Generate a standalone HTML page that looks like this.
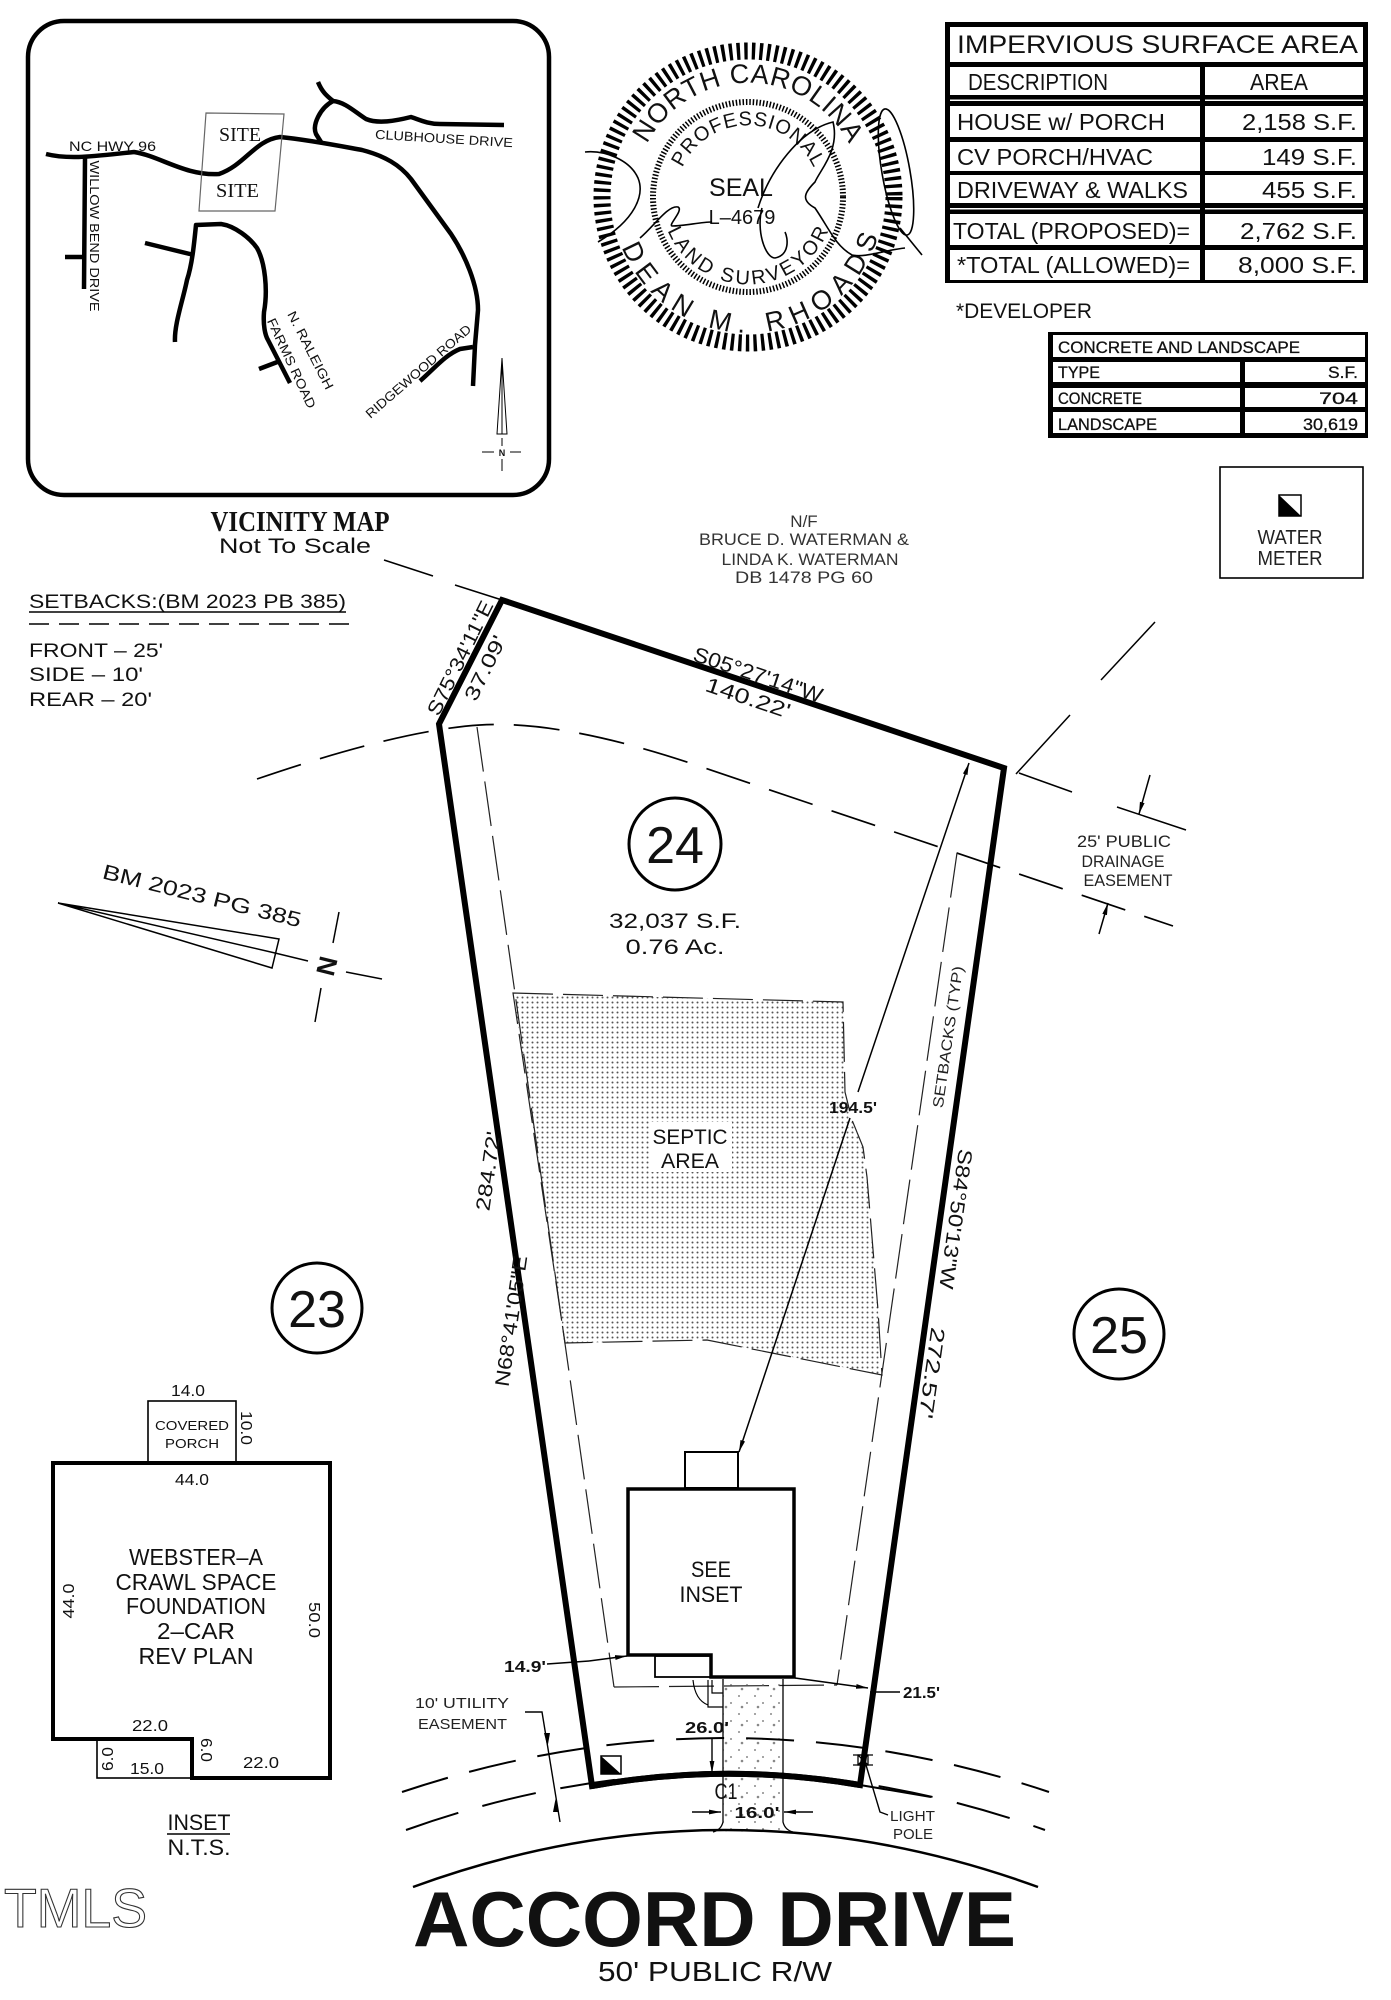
<!DOCTYPE html>
<html><head><meta charset="utf-8"><style>
html,body{margin:0;padding:0;background:#fff}
svg{display:block}
text{font-family:"Liberation Sans",Arial,sans-serif;fill:#111}
.sf{font-family:"Liberation Serif","Times New Roman",serif}
</style></head><body>
<svg width="1391" height="2000" viewBox="0 0 1391 2000" xmlns="http://www.w3.org/2000/svg">
<defs>
<pattern id="dots" width="5" height="5" patternUnits="userSpaceOnUse"><circle cx="2.5" cy="2.5" r="1" fill="#555"/></pattern>
<pattern id="grav" width="16" height="18" patternUnits="userSpaceOnUse"><circle cx="3" cy="4" r="0.9" fill="#666"/><circle cx="11" cy="11" r="0.9" fill="#666"/><circle cx="6" cy="15" r="1.3" fill="#888"/></pattern>
<marker id="ar" viewBox="0 0 12 6" refX="12" refY="3" markerWidth="12" markerHeight="6" markerUnits="userSpaceOnUse" orient="auto-start-reverse"><path d="M0,0.6 L12,3 L0,5.4 Z" fill="#000"/></marker>
<path id="sTop" d="M-112.3,-19.8 A114,114 0 0 1 112.3,-19.8"/>
<path id="sBot" d="M-133.9,23.6 A136,136 0 0 0 133.9,23.6"/>
<path id="sTop2" d="M-71.7,-6.3 A72,72 0 0 1 71.7,-6.3"/>
<path id="sBot2" d="M-86.7,7.6 A87,87 0 0 0 86.7,7.6"/>
</defs>
<rect width="1391" height="2000" fill="#fff"/>

<!-- VICINITY MAP -->
<rect x="28" y="21" width="521" height="474" rx="36" fill="none" stroke="#000" stroke-width="4.5"/>
<g fill="none" stroke="#000" stroke-width="4.5" stroke-linejoin="round">
<path d="M46,154 C70,160 95,156 134,152 C160,156 185,176 219,174 C245,165 255,140 280,137 C310,140 340,146 362,150 C385,156 400,165 411,179 L451,234 C465,255 478,285 478,310 L475,345 L473,386"/>
<path d="M420,381 C435,368 445,355 460,349 L473,347"/>
<path d="M318,82 C322,92 327,96 333,101 C320,108 312,125 316,134 L321,142"/>
<path d="M333,101 C345,102 355,112 366,119 C378,124 395,121 411,117 C420,120 428,124 440,124 L504,125"/>
<path d="M85,158 L84,289 M65,257 L84,257"/>
<path d="M175,342 C174,325 183,300 187,280 C192,265 194,245 196,225 L221,224 C235,226 250,238 257,248 C265,262 268,290 264,312 C263,325 265,335 268,340 L290,383"/>
<path d="M145,243 L194,255 M259,369 L280,361"/>
</g>
<polygon points="206,113 284,114 275,211 199,211" fill="none" stroke="#666" stroke-width="1.2"/>
<text class="sf" x="219" y="141" font-size="20" textLength="42" lengthAdjust="spacingAndGlyphs">SITE</text>
<text class="sf" x="216" y="197" font-size="20" textLength="43" lengthAdjust="spacingAndGlyphs">SITE</text>
<text x="69" y="151" font-size="14" textLength="87" lengthAdjust="spacingAndGlyphs">NC HWY 96</text>
<text transform="translate(444,138) rotate(3.5)" text-anchor="middle" dy="5" font-size="13" textLength="138" lengthAdjust="spacingAndGlyphs">CLUBHOUSE DRIVE</text>
<text transform="translate(95,236) rotate(90)" text-anchor="middle" dy="5" font-size="13" textLength="151" lengthAdjust="spacingAndGlyphs">WILLOW BEND DRIVE</text>
<text transform="translate(311,350) rotate(63)" text-anchor="middle" dy="5" font-size="13" textLength="86" lengthAdjust="spacingAndGlyphs">N. RALEIGH</text>
<text transform="translate(292,363) rotate(65)" text-anchor="middle" dy="5" font-size="13" textLength="98" lengthAdjust="spacingAndGlyphs">FARMS ROAD</text>
<text transform="translate(418,371) rotate(-41)" text-anchor="middle" dy="5" font-size="13" textLength="135" lengthAdjust="spacingAndGlyphs">RIDGEWOOD ROAD</text>
<g stroke="#000" stroke-width="1" fill="none">
<polygon points="502,358 497,434 507,434"/><line x1="502" y1="358" x2="502" y2="434"/>
<line x1="482" y1="452" x2="494" y2="452"/><line x1="510" y1="452" x2="521" y2="452"/>
<line x1="502" y1="438" x2="502" y2="446"/><line x1="502" y1="459" x2="502" y2="471"/>
</g>
<text x="502" y="456" font-size="9" font-weight="bold" text-anchor="middle">N</text>

<text class="sf" x="300" y="531" font-size="28" font-weight="bold" text-anchor="middle" textLength="179" lengthAdjust="spacingAndGlyphs">VICINITY MAP</text>
<text x="219" y="553" font-size="21" textLength="152" lengthAdjust="spacingAndGlyphs">Not To Scale</text>

<!-- SETBACKS -->
<text x="29" y="608" font-size="19" textLength="317" lengthAdjust="spacingAndGlyphs">SETBACKS:(BM 2023 PB 385)</text>
<line x1="29" y1="612" x2="346" y2="612" stroke="#000" stroke-width="1.4"/>
<line x1="29" y1="624" x2="357" y2="624" stroke="#000" stroke-width="1.4" stroke-dasharray="20 10"/>
<text x="29" y="657" font-size="19" textLength="134" lengthAdjust="spacingAndGlyphs">FRONT – 25'</text>
<text x="29" y="681" font-size="19" textLength="114" lengthAdjust="spacingAndGlyphs">SIDE – 10'</text>
<text x="29" y="706" font-size="19" textLength="123" lengthAdjust="spacingAndGlyphs">REAR – 20'</text>

<!-- SEAL -->
<g transform="translate(748,197)">
<circle r="146" fill="none" stroke="#000" stroke-width="17" stroke-dasharray="3.4 4.2"/>
<circle r="95" fill="none" stroke="#000" stroke-width="6" stroke-dasharray="1.5 1.9"/>
<text font-size="27"><textPath href="#sTop" startOffset="50%" text-anchor="middle" textLength="248" lengthAdjust="spacing">NORTH CAROLINA</textPath></text>
<text font-size="27"><textPath href="#sBot" startOffset="51.5%" text-anchor="middle" textLength="335" lengthAdjust="spacing">DEAN M. RHOADS</textPath></text>
<text font-size="20"><textPath href="#sTop2" startOffset="50%" text-anchor="middle" textLength="165" lengthAdjust="spacing">PROFESSIONAL</textPath></text>
<text font-size="20"><textPath href="#sBot2" startOffset="50%" text-anchor="middle" textLength="205" lengthAdjust="spacing">LAND SURVEYOR</textPath></text>
<text x="-7" y="-1" font-size="25" text-anchor="middle">SEAL</text>
<text x="-6" y="27" font-size="20" text-anchor="middle">L–4679</text>
</g>
<g fill="none" stroke="#000" stroke-width="1.6">
<path d="M585,152 C605,150 630,160 638,178 C645,195 635,220 598,242"/>
<path d="M640,238 C655,225 668,205 678,207 C684,210 668,225 672,226 C685,226 700,222 712,222"/>
<path d="M758,208 C770,170 800,130 833,122 C840,150 820,170 815,182 C805,192 800,200 815,208 C830,230 835,245 852,255 C865,258 885,250 905,248"/>
<path d="M762,208 C756,230 765,258 775,258 C790,255 788,238 785,232"/>
<ellipse cx="896" cy="172" rx="14" ry="64" transform="rotate(-10 896 172)"/>
<path d="M900,228 L922,255"/>
</g>

<!-- IMPERVIOUS TABLE -->
<rect x="945" y="22" width="423" height="261" fill="#000"/>
<g fill="#fff">
<rect x="950" y="27" width="413" height="35"/>
<rect x="950" y="67" width="250" height="28"/><rect x="1205" y="67" width="158" height="28"/>
<rect x="950" y="99.5" width="250" height="1.5"/><rect x="1205" y="99.5" width="158" height="1.5"/>
<rect x="950" y="106" width="250" height="31"/><rect x="1205" y="106" width="158" height="31"/>
<rect x="950" y="142" width="250" height="29"/><rect x="1205" y="142" width="158" height="29"/>
<rect x="950" y="175" width="250" height="28"/><rect x="1205" y="175" width="158" height="28"/>
<rect x="950" y="208" width="250" height="1.5"/><rect x="1205" y="208" width="158" height="1.5"/>
<rect x="950" y="214" width="250" height="31"/><rect x="1205" y="214" width="158" height="31"/>
<rect x="950" y="250" width="250" height="30"/><rect x="1205" y="250" width="158" height="30"/>
</g>
<g font-size="23">
<text x="957" y="53" font-size="25" textLength="401" lengthAdjust="spacingAndGlyphs">IMPERVIOUS SURFACE AREA</text>
<text x="968" y="90" textLength="140" lengthAdjust="spacingAndGlyphs">DESCRIPTION</text>
<text x="1250" y="90" textLength="58" lengthAdjust="spacingAndGlyphs">AREA</text>
<text x="957" y="130" textLength="208" lengthAdjust="spacingAndGlyphs">HOUSE w/ PORCH</text>
<text x="1357" y="130" text-anchor="end" textLength="115" lengthAdjust="spacingAndGlyphs">2,158 S.F.</text>
<text x="957" y="165" textLength="196" lengthAdjust="spacingAndGlyphs">CV PORCH/HVAC</text>
<text x="1357" y="165" text-anchor="end" textLength="95" lengthAdjust="spacingAndGlyphs">149 S.F.</text>
<text x="957" y="198" textLength="231" lengthAdjust="spacingAndGlyphs">DRIVEWAY &amp; WALKS</text>
<text x="1357" y="198" text-anchor="end" textLength="95" lengthAdjust="spacingAndGlyphs">455 S.F.</text>
<text x="953" y="239" textLength="237" lengthAdjust="spacingAndGlyphs">TOTAL (PROPOSED)=</text>
<text x="1357" y="239" text-anchor="end" textLength="117" lengthAdjust="spacingAndGlyphs">2,762 S.F.</text>
<text x="957" y="273" textLength="233" lengthAdjust="spacingAndGlyphs">*TOTAL (ALLOWED)=</text>
<text x="1357" y="273" text-anchor="end" textLength="119" lengthAdjust="spacingAndGlyphs">8,000 S.F.</text>
</g>
<text x="956" y="318" font-size="21" textLength="136" lengthAdjust="spacingAndGlyphs">*DEVELOPER</text>

<!-- CONCRETE TABLE -->
<rect x="1048" y="332" width="320" height="106" fill="#000"/>
<g fill="#fff">
<rect x="1053" y="335" width="312" height="22"/>
<rect x="1053" y="362" width="187" height="20"/><rect x="1245" y="362" width="120" height="20"/>
<rect x="1053" y="388" width="187" height="19"/><rect x="1245" y="388" width="120" height="19"/>
<rect x="1053" y="412" width="187" height="21"/><rect x="1245" y="412" width="120" height="21"/>
</g>
<g font-size="17" stroke="#111" stroke-width="0.3">
<text x="1058" y="353" textLength="242" lengthAdjust="spacingAndGlyphs">CONCRETE AND LANDSCAPE</text>
<text x="1058" y="378" textLength="42" lengthAdjust="spacingAndGlyphs">TYPE</text>
<text x="1358" y="378" text-anchor="end" textLength="30" lengthAdjust="spacingAndGlyphs">S.F.</text>
<text x="1058" y="404" textLength="84" lengthAdjust="spacingAndGlyphs">CONCRETE</text>
<text x="1358" y="404" text-anchor="end" textLength="39" lengthAdjust="spacingAndGlyphs">704</text>
<text x="1058" y="430" textLength="99" lengthAdjust="spacingAndGlyphs">LANDSCAPE</text>
<text x="1358" y="430" text-anchor="end" textLength="55" lengthAdjust="spacingAndGlyphs">30,619</text>
</g>

<!-- WATER METER LEGEND -->
<rect x="1220" y="467" width="143" height="111" fill="none" stroke="#000" stroke-width="1.6"/>
<rect x="1279" y="495" width="22" height="21" fill="#fff" stroke="#000" stroke-width="1.5"/>
<polygon points="1279,495 1279,516 1301,516" fill="#000"/>
<text x="1290" y="544" font-size="20" text-anchor="middle" textLength="65" lengthAdjust="spacingAndGlyphs" style="fill:#222">WATER</text>
<text x="1290" y="565" font-size="20" text-anchor="middle" textLength="65" lengthAdjust="spacingAndGlyphs" style="fill:#222">METER</text>

<!-- N/F -->
<g font-size="17" text-anchor="middle">
<text x="804" y="527" style="fill:#333">N/F</text>
<text x="804" y="545" textLength="210" lengthAdjust="spacingAndGlyphs" style="fill:#333">BRUCE D. WATERMAN &amp;</text>
<text x="810" y="565" textLength="177" lengthAdjust="spacingAndGlyphs" style="fill:#333">LINDA K. WATERMAN</text>
<text x="804" y="583" textLength="138" lengthAdjust="spacingAndGlyphs" style="fill:#333">DB 1478 PG 60</text>
</g>

<!-- THIN LINES AROUND LOT -->
<g fill="none" stroke="#000" stroke-width="1.5">
<line x1="384" y1="560" x2="433" y2="576"/><line x1="455" y1="585" x2="502" y2="600"/>
<line x1="1019" y1="773" x2="1072" y2="792"/><line x1="1117" y1="807" x2="1186" y2="830"/>
<line x1="1155" y1="622" x2="1101" y2="680"/><line x1="1070" y1="715" x2="1016" y2="774"/>
<line x1="1150" y1="775" x2="1139" y2="814" marker-end="url(#ar)"/>
<line x1="1099" y1="934" x2="1108" y2="903" marker-end="url(#ar)"/>
<path d="M257,779 Q400,730 480,725 Q560,720 690,763 L1173,926" stroke-width="1.7" stroke-dasharray="46 20"/>
</g>
<g font-size="17" text-anchor="middle">
<text x="1124" y="847" textLength="94" lengthAdjust="spacingAndGlyphs" style="fill:#222">25' PUBLIC</text>
<text x="1123" y="867" textLength="83" lengthAdjust="spacingAndGlyphs" style="fill:#222">DRAINAGE</text>
<text x="1128" y="886" textLength="89" lengthAdjust="spacingAndGlyphs" style="fill:#222">EASEMENT</text>
</g>

<!-- SEPTIC -->
<path d="M513,993 L843,1002 L845,1092 L852,1120 L863,1147 L867,1177 L878,1310 L882,1375 L707,1340 L565,1343 Z" fill="url(#dots)" stroke="#222" stroke-width="1.2" stroke-dasharray="40 10"/>
<rect x="650" y="1122" width="82" height="50" fill="#fff"/>
<text x="690" y="1144" font-size="21" text-anchor="middle" textLength="75" lengthAdjust="spacingAndGlyphs">SEPTIC</text>
<text x="690" y="1168" font-size="21" text-anchor="middle" textLength="58" lengthAdjust="spacingAndGlyphs">AREA</text>

<!-- SETBACK LINES -->
<g fill="none" stroke="#222" stroke-width="1.2" stroke-dasharray="45 10">
<line x1="477" y1="727" x2="614" y2="1687"/>
<line x1="957" y1="853" x2="837" y2="1685"/>
<line x1="614" y1="1687" x2="837" y2="1685"/>
</g>
<text transform="translate(948,1037) rotate(-81.8)" text-anchor="middle" dy="5" font-size="15" textLength="143" lengthAdjust="spacingAndGlyphs" style="fill:#222">SETBACKS (TYP)</text>

<!-- 194.5 leader -->
<g stroke="#000" stroke-width="1.5" fill="none">
<line x1="858" y1="1092" x2="969" y2="763" marker-end="url(#ar)"/>
<line x1="850" y1="1118" x2="739" y2="1452" marker-end="url(#ar)"/>
</g>
<text x="853" y="1113" font-size="16" font-weight="bold" text-anchor="middle" textLength="48" lengthAdjust="spacingAndGlyphs">194.5'</text>

<!-- LOT -->
<path d="M439,724 L502,600 L1004,768 L860,1785 Q726,1762 592,1786 Z" fill="none" stroke="#000" stroke-width="6" stroke-linejoin="miter"/>

<!-- lot labels -->
<g font-size="20">
<text transform="translate(460,658) rotate(-63.8)" text-anchor="middle" dy="7" textLength="125" lengthAdjust="spacingAndGlyphs">S75°34'11"E</text>
<text transform="translate(485,668) rotate(-63.8)" text-anchor="middle" dy="7" textLength="70" lengthAdjust="spacingAndGlyphs">37.09'</text>
<text transform="translate(758,675) rotate(18.5)" text-anchor="middle" dy="7" font-size="21" textLength="135" lengthAdjust="spacingAndGlyphs">S05°27'14"W</text>
<text transform="translate(748,698) rotate(18.5)" text-anchor="middle" dy="7" font-size="21" textLength="88" lengthAdjust="spacingAndGlyphs">140.22'</text>
<text transform="translate(488,1171) rotate(-81.8)" text-anchor="middle" dy="7" textLength="80" lengthAdjust="spacingAndGlyphs">284.72'</text>
<text transform="translate(511,1321) rotate(-81.8)" text-anchor="middle" dy="7" textLength="132" lengthAdjust="spacingAndGlyphs">N68°41'05"E</text>
<text transform="translate(956,1219) rotate(98.1)" text-anchor="middle" dy="7" textLength="141" lengthAdjust="spacingAndGlyphs">S84°50'13"W</text>
<text transform="translate(932,1373) rotate(98.1)" text-anchor="middle" dy="7" textLength="92" lengthAdjust="spacingAndGlyphs">272.57'</text>
</g>

<!-- lot number circles -->
<g fill="none" stroke="#000" stroke-width="3">
<circle cx="675" cy="844" r="46"/><circle cx="317" cy="1308" r="45"/><circle cx="1119" cy="1334" r="45"/>
</g>
<g font-size="52" text-anchor="middle">
<text x="675" y="863">24</text><text x="317" y="1327">23</text><text x="1119" y="1353">25</text>
</g>
<text x="675" y="928" font-size="21" text-anchor="middle" textLength="132" lengthAdjust="spacingAndGlyphs">32,037 S.F.</text>
<text x="675" y="954" font-size="21" text-anchor="middle" textLength="99" lengthAdjust="spacingAndGlyphs">0.76 Ac.</text>

<!-- BM north arrow -->
<text transform="translate(202,896) rotate(14)" text-anchor="middle" dy="7" font-size="21" textLength="204" lengthAdjust="spacingAndGlyphs">BM 2023 PG 385</text>
<g fill="none" stroke="#000" stroke-width="1.5">
<path d="M58,903 L279,939 L272,968 Z M58,903 L275,953 L308,961"/>
<line x1="346" y1="972" x2="382" y2="979"/>
<line x1="339" y1="912" x2="333" y2="943"/><line x1="321" y1="988" x2="315" y2="1022"/>
</g>
<text transform="translate(327,966) rotate(104)" text-anchor="middle" dy="9" font-size="26" font-weight="bold">N</text>

<!-- HOUSE ON LOT -->
<rect x="685" y="1452" width="53" height="36" fill="#fff" stroke="#000" stroke-width="2"/>
<path d="M628,1489 L794,1489 L794,1677 L711,1677 L711,1655 L628,1655 Z" fill="#fff" stroke="#000" stroke-width="3.5"/>
<rect x="655" y="1656" width="56" height="21" fill="none" stroke="#000" stroke-width="1.8"/>
<text x="711" y="1577" font-size="22" text-anchor="middle" textLength="40" lengthAdjust="spacingAndGlyphs">SEE</text>
<text x="711" y="1602" font-size="22" text-anchor="middle" textLength="63" lengthAdjust="spacingAndGlyphs">INSET</text>

<!-- driveway -->
<path d="M723,1679 L783,1679 L783,1822 Q785,1830 793,1832 L713,1832 Q721,1830 723,1822 Z" fill="url(#grav)"/>
<path d="M723,1679 L723,1822 Q721,1830 713,1832 M783,1679 L783,1822 Q785,1830 793,1832" fill="none" stroke="#000" stroke-width="1.3"/>
<path d="M693,1680 Q695,1700 708,1705 M708,1680 L708,1707 L723,1707 M712,1680 L712,1693 L723,1693" fill="none" stroke="#000" stroke-width="1.2"/>

<!-- front curves -->
<path d="M402,1792 Q725,1684 1049,1792" fill="none" stroke="#000" stroke-width="2" stroke-dasharray="48 22"/>
<path d="M406,1830 Q725,1716 1045,1830" fill="none" stroke="#000" stroke-width="2" stroke-dasharray="55 25"/>
<path d="M860,1785 L931,1797" fill="none" stroke="#000" stroke-width="2"/>
<path d="M413,1887 Q725,1773 1038,1887" fill="none" stroke="#000" stroke-width="2.5"/>
<path d="M592,1786 Q726,1762 860,1785" fill="none" stroke="#000" stroke-width="6"/>

<!-- dims -->
<g stroke="#000" stroke-width="1.4" fill="none">
<line x1="712" y1="1738" x2="712" y2="1773" marker-end="url(#ar)"/>
<line x1="547" y1="1664" x2="589" y2="1661"/>
<line x1="589" y1="1661" x2="627" y2="1656" marker-end="url(#ar)"/>
<line x1="795" y1="1678" x2="868" y2="1688" marker-end="url(#ar)"/>
<line x1="870" y1="1692" x2="900" y2="1692"/>
<line x1="692" y1="1812" x2="721" y2="1812" marker-end="url(#ar)"/>
<line x1="813" y1="1812" x2="784" y2="1812" marker-end="url(#ar)"/>
<path d="M525,1712 L542,1712 L560,1822"/>
<path d="M866,1765 L880,1812 L888,1815"/>
</g>
<polygon points="544,1733 550,1733 547.5,1747" fill="#000"/>
<polygon points="553,1812 559,1812 555.5,1799" fill="#000"/>
<g font-size="16" font-weight="bold">
<text x="707" y="1733" text-anchor="middle" textLength="44" lengthAdjust="spacingAndGlyphs">26.0'</text>
<text x="546" y="1672" text-anchor="end" textLength="42" lengthAdjust="spacingAndGlyphs">14.9'</text>
<text x="903" y="1698" textLength="37" lengthAdjust="spacingAndGlyphs">21.5'</text>
<text x="757" y="1818" text-anchor="middle" textLength="45" lengthAdjust="spacingAndGlyphs">16.0'</text>
</g>
<text x="726" y="1799" font-size="22" text-anchor="middle" textLength="23" lengthAdjust="spacingAndGlyphs">C1</text>
<g font-size="15">
<text x="415" y="1708" textLength="94" lengthAdjust="spacingAndGlyphs" style="fill:#222">10' UTILITY</text>
<text x="418" y="1729" textLength="89" lengthAdjust="spacingAndGlyphs" style="fill:#222">EASEMENT</text>
<text x="890" y="1821" textLength="45" lengthAdjust="spacingAndGlyphs" style="fill:#222">LIGHT</text>
<text x="893" y="1839" textLength="40" lengthAdjust="spacingAndGlyphs" style="fill:#222">POLE</text>
</g>
<!-- lot water meter & light pole -->
<rect x="601" y="1756" width="20" height="18" fill="#fff" stroke="#000" stroke-width="1.5"/>
<polygon points="601,1756 601,1774 621,1774" fill="#000"/>
<g stroke="#000" stroke-width="1.3" fill="none">
<rect x="858" y="1755" width="10" height="10"/><path d="M858,1755 L868,1765 M868,1755 L858,1765 M853,1755 L873,1755 M853,1765 L873,1765"/>
</g>

<!-- ACCORD DRIVE -->
<text x="413" y="1946" font-size="78" font-weight="bold" textLength="603" lengthAdjust="spacingAndGlyphs">ACCORD DRIVE</text>
<text x="598" y="1981" font-size="28" textLength="234" lengthAdjust="spacingAndGlyphs">50' PUBLIC R/W</text>

<!-- INSET -->
<rect x="148" y="1401" width="88" height="61" fill="none" stroke="#000" stroke-width="1.6"/>
<path d="M53,1463 L330,1463 L330,1778 L192,1778 L192,1739 L53,1739 Z" fill="none" stroke="#000" stroke-width="4"/>
<rect x="97" y="1739" width="95" height="39" fill="none" stroke="#000" stroke-width="1.6"/>
<g font-size="16" text-anchor="middle">
<text x="188" y="1396" textLength="34" lengthAdjust="spacingAndGlyphs">14.0</text>
<text x="192" y="1485" textLength="34" lengthAdjust="spacingAndGlyphs">44.0</text>
<text x="150" y="1731" textLength="36" lengthAdjust="spacingAndGlyphs">22.0</text>
<text x="261" y="1768" textLength="36" lengthAdjust="spacingAndGlyphs">22.0</text>
<text x="147" y="1774" textLength="34" lengthAdjust="spacingAndGlyphs">15.0</text>
<text transform="translate(246,1428) rotate(90)" dy="5" textLength="34" lengthAdjust="spacingAndGlyphs">10.0</text>
<text transform="translate(69,1601) rotate(-90)" dy="5" textLength="35" lengthAdjust="spacingAndGlyphs">44.0</text>
<text transform="translate(314,1620) rotate(90)" dy="5" textLength="36" lengthAdjust="spacingAndGlyphs">50.0</text>
<text transform="translate(108,1759) rotate(-90)" dy="5" textLength="24" lengthAdjust="spacingAndGlyphs">6.0</text>
<text transform="translate(206,1750) rotate(90)" dy="5" textLength="24" lengthAdjust="spacingAndGlyphs">6.0</text>
</g>
<text x="192" y="1430" font-size="13" text-anchor="middle" textLength="74" lengthAdjust="spacingAndGlyphs">COVERED</text>
<text x="192" y="1448" font-size="13" text-anchor="middle" textLength="54" lengthAdjust="spacingAndGlyphs">PORCH</text>
<g font-size="23" text-anchor="middle">
<text x="196" y="1565" textLength="134" lengthAdjust="spacingAndGlyphs">WEBSTER–A</text>
<text x="196" y="1590" textLength="161" lengthAdjust="spacingAndGlyphs">CRAWL SPACE</text>
<text x="196" y="1614" textLength="140" lengthAdjust="spacingAndGlyphs">FOUNDATION</text>
<text x="196" y="1639" textLength="78" lengthAdjust="spacingAndGlyphs">2–CAR</text>
<text x="196" y="1664" textLength="115" lengthAdjust="spacingAndGlyphs">REV PLAN</text>
</g>
<text x="199" y="1830" font-size="22" text-anchor="middle" textLength="63" lengthAdjust="spacingAndGlyphs">INSET</text>
<line x1="167" y1="1834" x2="230" y2="1834" stroke="#000" stroke-width="1.5"/>
<text x="199" y="1855" font-size="22" text-anchor="middle" textLength="63" lengthAdjust="spacingAndGlyphs">N.T.S.</text>

<!-- watermark -->
<text x="4" y="1927" font-size="55" textLength="143" lengthAdjust="spacingAndGlyphs" style="fill:none;stroke:#333;stroke-width:1.1">TMLS</text>
</svg>
</body></html>
